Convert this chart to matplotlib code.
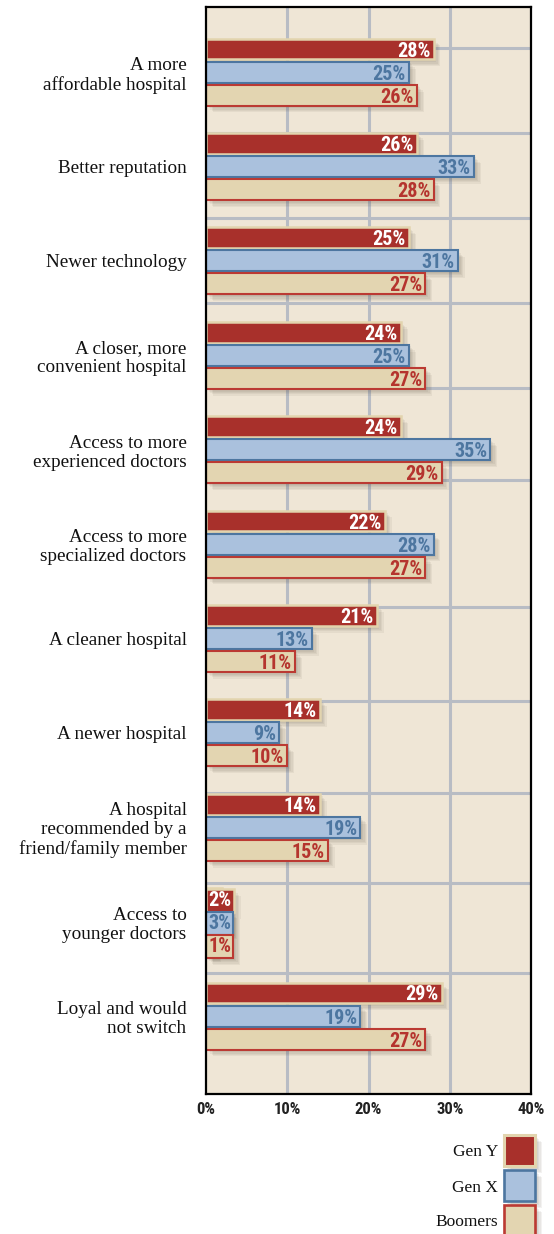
import matplotlib
matplotlib.use("Agg")
import matplotlib.pyplot as plt
import matplotlib.patheffects as pe
from matplotlib.patches import Rectangle
import numpy as np

# ---- data ----
categories = [
    "A more\naffordable hospital",
    "Better reputation",
    "Newer technology",
    "A closer, more\nconvenient hospital",
    "Access to more\nexperienced doctors",
    "Access to more\nspecialized doctors",
    "A cleaner hospital",
    "A newer hospital",
    "A hospital\nrecommended by a\nfriend/family member",
    "Access to\nyounger doctors",
    "Loyal and would\nnot switch",
]
gen_y = [28, 26, 25, 24, 24, 22, 21, 14, 14, 2, 29]
gen_x = [25, 33, 31, 25, 35, 28, 13, 9, 19, 3, 19]
boomers = [26, 28, 27, 27, 29, 27, 11, 10, 15, 1, 27]
series_names = ["Gen Y", "Gen X", "Boomers"]
x_ticks = [0, 10, 20, 30, 40]
x_tick_labels = ["0%", "10%", "20%", "30%", "40%"]

# ---- styling ----
SERIF = ["Liberation Serif", "DejaVu Serif"]
NARROW = ["Roboto Condensed", "Liberation Sans Narrow", "Roboto", "DejaVu Sans"]
BG = "#EFE6D6"
GRID = "#B8BCC4"
styles = [
    dict(face="#A8302B", edge="#E2D4AE", text="white", lw=1.8),
    dict(face="#AAC1DD", edge="#4D76A0", text="#4D76A0", lw=1.5),
    dict(face="#E3D5B1", edge="#BB3A33", text="#B5342E", lw=1.5),
]
VAL_SIZE = 14.5

W, H = 554, 1234
fig = plt.figure(figsize=(W / 100, H / 100), dpi=100)
fig.patch.set_facecolor("white")

ax_left, ax_right, ax_top, ax_bottom = 206, 531, 7, 1094
ax = fig.add_axes([ax_left / W, 1 - ax_bottom / H,
                   (ax_right - ax_left) / W, (ax_bottom - ax_top) / H])
ax.set_facecolor(BG)

n = len(categories)
y = np.arange(n)
offset = 0.244
bar_h = 0.222

# soft drop shadow
shadow = [pe.SimplePatchShadow(offset=(k, -k), shadow_rgbFace="#5a5040", alpha=0.07)
          for k in (1, 2, 3, 4, 5)] + [pe.Normal()]

# background grid
for xv in x_ticks[1:-1]:
    ax.axvline(xv, color=GRID, lw=2.2, zorder=0.5)
grid_rows = [-0.254, 0.646, 1.547, 2.447, 3.347, 4.322, 5.667, 6.663, 7.638, 8.591, 9.545]
for gy in grid_rows:
    ax.axhline(gy, color=GRID, lw=2.2, zorder=0.5)

data = [gen_y, gen_x, boomers]
for j, (vals, st) in enumerate(zip(data, styles)):
    pos = y + (j - 1) * offset
    bars = ax.barh(pos, vals, height=bar_h, left=0, color=st["face"],
                   edgecolor=st["edge"], linewidth=st["lw"], zorder=3)
    for b in bars:
        b.set_path_effects(shadow)
    for p, v in zip(pos, vals):
        label = f"{v}%"
        if v >= 5:
            ax.text(v - 0.4, p, label, ha="right", va="center_baseline",
                    color=st["text"], fontsize=VAL_SIZE, fontweight="bold",
                    family=NARROW, zorder=5)
        else:
            # value too short for its label: the label carries the bar styling
            t = ax.text(0.3, p, label, ha="left", va="center_baseline",
                        color=st["text"], fontsize=VAL_SIZE, fontweight="bold",
                        family=NARROW, zorder=5,
                        bbox=dict(boxstyle="square,pad=0.1", fc=st["face"],
                                  ec=st["edge"], lw=st["lw"]))
            t.get_bbox_patch().set_path_effects(shadow)

ax.set_xlim(0, 40)
ax.set_ylim(n - 1 + 0.826, -0.689)
ax.set_xticks(x_ticks)
ax.set_xticklabels(x_tick_labels, family=NARROW, fontweight="bold",
                   fontsize=12, color="#222222")
ax.set_yticks(y)
ax.set_yticklabels(categories, family=SERIF, fontsize=13.8, color="#111111",
                   linespacing=1.15)
ax.tick_params(axis="y", length=0, pad=14)
ax.tick_params(axis="x", length=0, pad=6)
for s in ax.spines.values():
    s.set_color("black")
    s.set_linewidth(1.6)
    s.set_zorder(6)

# legend: labels to the left of swatches, bottom right
sw = 31
tops = [1135, 1170, 1205]
for name, st, top in zip(series_names, styles, tops):
    r = Rectangle((504 / W, 1 - (top + sw) / H), sw / W, sw / H,
                  transform=fig.transFigure, facecolor=st["face"],
                  edgecolor=st["edge"], linewidth=st["lw"] + 0.4, zorder=3)
    r.set_path_effects(shadow)
    fig.add_artist(r)
    fig.text(498 / W, 1 - (top + sw / 2) / H, name, ha="right",
             va="center_baseline", family=SERIF, fontsize=12.5, color="#111111")

fig.savefig("out.png", dpi=100, facecolor="white")
